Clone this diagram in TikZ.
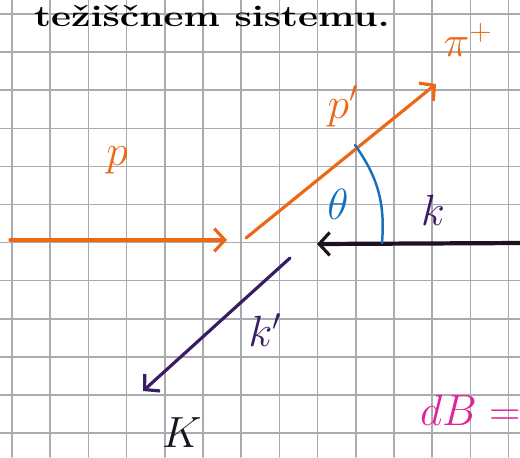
\documentclass[tikz,border=0pt]{standalone}
\usepackage{fontspec}
\usetikzlibrary{arrows.meta}
\definecolor{pOrange}{RGB}{236,104,22}
\definecolor{thetaBlue}{RGB}{22,112,190}
\definecolor{kPurple}{RGB}{58,28,98}
\definecolor{kBlack}{RGB}{28,18,34}
\definecolor{dbMagenta}{RGB}{226,34,150}
\definecolor{gridGray}{RGB}{170,170,178}
\tikzset{
  gridline/.style={gridGray,line width=0.9pt},
  vec/.style={line width=1.8pt,-{Straight Barb[length=6pt,width=13pt,line width=1.8pt]}},
  lbl/.style={inner sep=0pt,outer sep=0pt,font=\fontsize{26}{28}\selectfont}
}
\begin{document}
\begin{tikzpicture}[x=0.02cm,y=-0.02cm,line cap=round,line join=round]
  \useasboundingbox (0,0) rectangle (520,457);
  \clip (0,0) rectangle (520,457);
  % squared paper
  \foreach \i in {0,...,13} {
    \draw[gridline] ({12+38.2*\i},0) -- ({12+38.2*\i},457);
  }
  \foreach \j in {0,...,11} {
    \draw[gridline] (0,{14+38.1*\j}) -- (520,{14+38.1*\j});
  }
  \node[anchor=base,inner sep=0pt,xscale=1.3,font=\bfseries\fontsize{17}{19}\selectfont] (title) at (212,26) {težiščnem sistemu.};
  % momenta
  \coordinate (pStart) at (10,240);
  \coordinate (pEnd) at (227,240);
  \coordinate (hit) at (246,238);
  \coordinate (pPrimeEnd) at (436,84);
  \coordinate (kStart) at (522,243);
  \coordinate (kEnd) at (317,244);
  \coordinate (kPrimeStart) at (290,258);
  \coordinate (kPrimeEnd) at (143,391);
  \coordinate (arcTop) at (355,145);
  \coordinate (arcFoot) at (382,243);
  \draw[vec,pOrange] (pStart) -- (pEnd);
  \draw[vec,pOrange] (hit) -- (pPrimeEnd);
  \draw[vec,kBlack,line width=2.4pt] (kStart) -- (kEnd);
  \draw[vec,kPurple] (kPrimeStart) -- (kPrimeEnd);
  \draw[thetaBlue,line width=1.4pt] (arcTop) to[bend left=20] (arcFoot);
  % labels
  \node[lbl,text=pOrange,font=\fontsize{40}{42}\selectfont] (pLbl) at (117,160) {$p$};
  \node[lbl,text=pOrange] (pPrimeLbl) at (343,106) {$p'$};
  \node[lbl,text=pOrange] (pionLbl) at (468,40) {$\pi^+$};
  \node[lbl,text=thetaBlue] (thetaLbl) at (338,204) {$\theta$};
  \node[lbl,text=kPurple] (kLbl) at (433,210) {$k$};
  \node[lbl,text=kPurple] (kPrimeLbl) at (265,330) {$k'$};
  \node[lbl,text=kBlack] (bigK) at (182,433) {$K$};
  \node[lbl,text=dbMagenta,anchor=west,font=\fontsize{40}{42}\selectfont] (dbLbl) at (420,410) {$dB=$};
\end{tikzpicture}
\end{document}
